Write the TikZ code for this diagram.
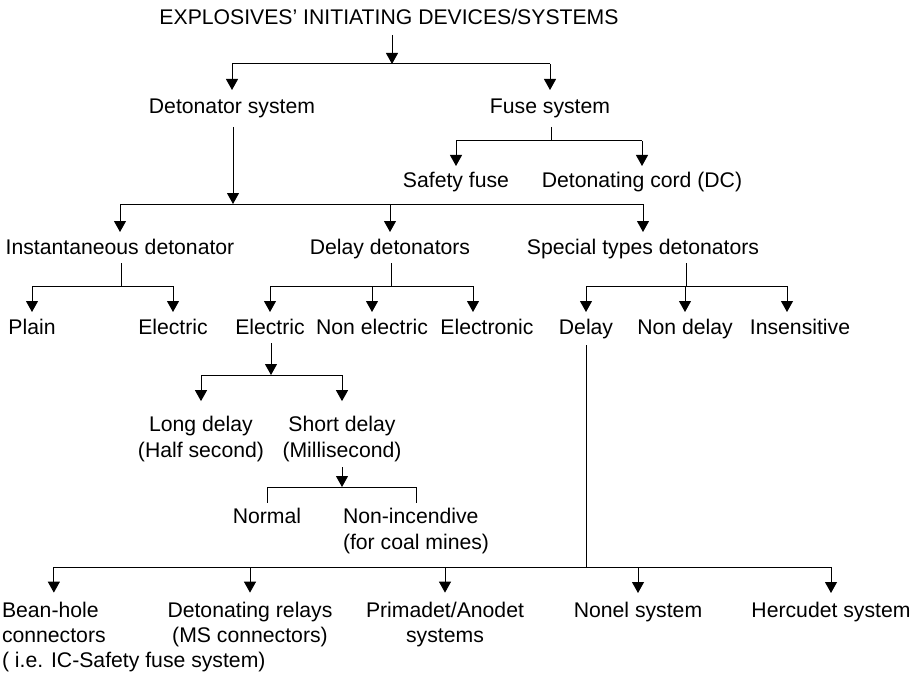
\documentclass[tikz,border=0pt]{standalone}
\usepackage{fontspec}
\setmainfont{Liberation Sans}
\usetikzlibrary{arrows.meta,positioning}
\tikzset{
  lbl/.style={inner sep=0pt,outer sep=0pt,text height=15pt,text depth=5pt,anchor=base,font=\fontsize{21.2}{25.5}\selectfont},
  mlbl/.style={inner sep=0pt,outer sep=0pt,anchor=base,align=center,font=\fontsize{21.2}{25.5}\selectfont},
  stem/.style={line width=1pt},
  tobar/.style={line width=1pt,-{Triangle[length=11pt,width=12pt]}},
  tonode/.style={line width=1pt,-{Triangle[length=11pt,width=12pt]},shorten >=7pt}
}
\begin{document}
\begin{tikzpicture}[x=1pt,y=-1pt]
\useasboundingbox (0,0) rectangle (920,679);

\node[lbl] (root) at (389,25) {EXPLOSIVES’ INITIATING DEVICES/SYSTEMS};
\node[lbl] (det) at (232,114) {Detonator system};
\node[lbl] (fuse) at (550,114) {Fuse system};
\node[lbl] (safety) at (456,187) {Safety fuse};
\node[lbl] (cord) at (642,187) {Detonating cord (DC)};
\node[lbl] (inst) at (120,254) {Instantaneous detonator};
\node[lbl] (delay) at (390,254) {Delay detonators};
\node[lbl] (special) at (643,254) {Special types detonators};
\node[lbl] (plain) at (32,334) {Plain};
\node[lbl] (ielec) at (173,334) {Electric};
\node[lbl] (delec) at (270,334) {Electric};
\node[lbl] (nonelec) at (372,334) {Non electric};
\node[lbl] (electronic) at (487,334) {Electronic};
\node[lbl] (sdelay) at (586,334) {Delay};
\node[lbl] (nondelay) at (685,334) {Non delay};
\node[lbl] (insens) at (800,334) {Insensitive};
\node[mlbl] (long) at (201,457) {Long delay\\(Half second)};
\node[mlbl] (short) at (342,457) {Short delay\\(Millisecond)};
\node[lbl] (normal) at (267,523) {Normal};
\node[mlbl,align=left,anchor=base west] (nonincend) at (343,549) {Non-incendive\\(for coal mines)};
\node[mlbl,align=left,anchor=base west] (bean) at (2,642.5) {Bean-hole\\connectors};
\node[lbl,anchor=base west] (beannote) at (2,667) {( i.e. IC-Safety fuse system)};
\node[mlbl] (relays) at (250,642.5) {Detonating relays\\(MS connectors)};
\node[mlbl] (prima) at (445,642.5) {Primadet/Anodet\\systems};
\node[lbl] (nonel) at (638,617) {Nonel system};
\node[lbl] (hercu) at (831,617) {Hercudet system};

\coordinate (j0) at (392,64);
\coordinate (j1) at (233,204);
\coordinate (j2) at (551,141);
\coordinate (j3) at (121,286);
\coordinate (j4) at (391,286);
\coordinate (j5) at (686,286);
\coordinate (j6) at (271,375);
\coordinate (j7) at (342,487);
\coordinate (j8) at (586,567);

\draw[tobar,shorten <=5pt] (root.south -| j0) -- (j0);
\draw[stem] (j0 -| det) -- (j0 -| fuse);
\draw[tonode,shorten >=9pt] (j0 -| det) -- (det);
\draw[tonode,shorten >=9pt] (j0 -| fuse) -- (fuse);

\draw[tobar,shorten <=8pt] (det.south -| j1) -- (j1);
\draw[stem] (j1 -| inst) -- (j1 -| special);
\draw[tonode] (j1 -| inst) -- (inst);
\draw[tonode] (j1 -| delay) -- (delay);
\draw[tonode] (j1 -| special) -- (special);

\draw[stem,shorten <=8pt] (fuse.south -| j2) -- (j2);
\draw[stem] (j2 -| safety) -- (j2 -| cord);
\draw[tonode,shorten >=6pt] (j2 -| safety) -- (safety);
\draw[tonode,shorten >=6pt] (j2 -| cord) -- (cord);

\draw[stem,shorten <=4pt] (inst.south -| j3) -- (j3);
\draw[stem] (j3 -| plain) -- (j3 -| ielec);
\draw[tonode] (j3 -| plain) -- (plain);
\draw[tonode] (j3 -| ielec) -- (ielec);

\draw[stem,shorten <=4pt] (delay.south -| j4) -- (j4);
\draw[stem] (j4 -| delec) -- ([xshift=-14pt]j4 -| electronic);
\draw[tonode] (j4 -| delec) -- (delec);
\draw[tonode] (j4 -| nonelec) -- (nonelec);
\draw[tonode] ([xshift=-14pt]j4 -| electronic) -- ([xshift=-14pt]electronic.north);

\draw[stem,shorten <=4pt] (special.south -| j5) -- (j5);
\draw[stem] (j5 -| sdelay) -- ([xshift=-13pt]j5 -| insens);
\draw[tonode] (j5 -| sdelay) -- (sdelay);
\draw[tonode] (j5 -| nondelay) -- (nondelay);
\draw[tonode] ([xshift=-13pt]j5 -| insens) -- ([xshift=-13pt]insens.north);

\draw[tobar,shorten <=4pt] (delec.south -| j6) -- (j6);
\draw[stem] (j6 -| long) -- (j6 -| short);
\draw[tonode,shorten >=15pt] (j6 -| long) -- (long);
\draw[tonode,shorten >=15pt] (j6 -| short) -- (short);

\draw[tobar,shorten <=6pt] (short.south -| j7) -- (j7);
\draw[stem] (j7 -| normal) -- (j7 -| nonincend);
\draw[stem,shorten >=5pt] (j7 -| normal) -- (normal);
\draw[stem,shorten >=5pt] (j7 -| nonincend) -- (nonincend);

\draw[stem,shorten <=6pt] (sdelay.south -| j8) -- (j8);
\draw[stem] (j8 -| bean) -- (j8 -| hercu);
\draw[tonode,shorten >=9pt] (j8 -| bean) -- (bean);
\draw[tonode,shorten >=9pt] (j8 -| relays) -- (relays);
\draw[tonode,shorten >=9pt] (j8 -| prima) -- (prima);
\draw[tonode,shorten >=9pt] (j8 -| nonel) -- (nonel);
\draw[tonode,shorten >=9pt] (j8 -| hercu) -- (hercu);
\end{tikzpicture}
\end{document}
